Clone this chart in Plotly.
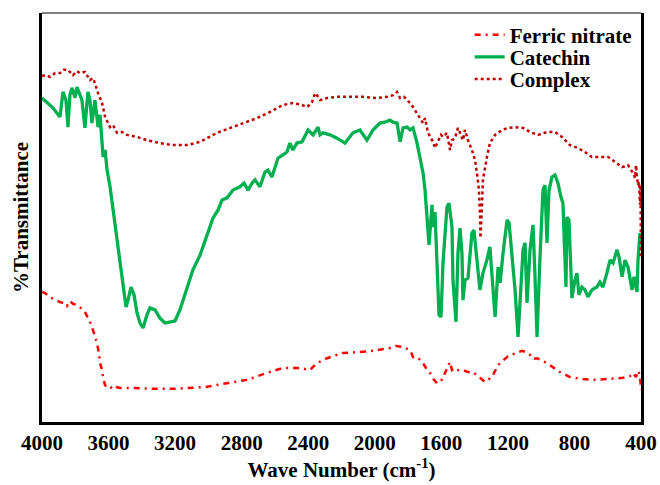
import plotly.graph_objects as go

# ---- data (wave number in cm-1, relative %T) ----
cat_wn = [4000,3970,3934,3892,3874,3856,3844,3832,3820,3802,3790,3772,3760,3742,3724,3712,3700,3682,3663,3651,3639,3633,3621,3609,3591,3573,3543,3519,3495,3483,3465,3447,3429,3411,3393,3369,3351,3321,3291,3261,3231,3201,3171,3129,3093,3050,3008,2972,2942,2918,2888,2852,2810,2786,2762,2738,2720,2690,2660,2642,2618,2582,2552,2528,2510,2492,2468,2437,2401,2371,2341,2329,2311,2269,2227,2179,2131,2089,2047,2011,1969,1939,1909,1890,1866,1848,1830,1806,1788,1770,1746,1728,1710,1698,1686,1674,1656,1650,1638,1626,1614,1602,1590,1566,1554,1536,1530,1512,1500,1488,1476,1470,1458,1440,1416,1404,1386,1368,1350,1326,1308,1290,1277,1259,1247,1229,1205,1193,1175,1157,1139,1121,1109,1097,1091,1085,1067,1049,1037,1025,1007,989,977,965,953,935,917,899,881,869,851,845,833,815,797,785,773,755,737,719,695,665,647,629,605,586,568,544,532,514,496,478,454,442,424,418,406]
cat_t = [79.2,78.0,76.8,74.6,80.7,78.7,72.1,80.0,81.7,79.3,81.9,80.0,78.7,71.9,80.7,78.7,73.1,78.7,72.1,75.1,68.9,64.8,66.5,61.6,57.5,51.8,43.8,35.5,28.1,29.8,33.0,31.1,26.7,24.2,23.0,26.2,27.9,27.4,25.4,24.2,24.5,24.7,27.4,33.0,37.2,40.8,45.7,49.9,51.8,54.3,54.8,56.7,57.5,58.4,56.7,58.4,59.2,57.5,61.1,61.6,59.9,64.5,65.3,66.0,68.2,66.5,68.2,68.5,71.4,70.2,72.1,70.2,70.7,70.2,69.4,68.2,70.7,71.4,68.9,71.4,73.1,73.3,73.8,73.3,73.1,68.5,71.9,72.1,71.4,71.9,68.2,64.8,60.9,56.7,49.4,43.3,53.1,47.7,51.3,37.9,26.2,25.7,38.9,52.6,53.5,47.7,34.7,24.5,41.3,47.4,41.3,29.8,34.7,35.2,46.2,46.9,39.6,32.3,36.4,39.6,42.8,34.0,25.7,37.9,34.0,41.3,49.4,48.7,41.3,32.3,20.8,32.3,42.1,43.8,34.7,29.1,42.1,48.2,35.5,20.8,40.3,56.7,57.9,43.8,56.7,59.9,60.4,58.4,55.0,53.5,33.0,50.1,49.4,30.3,34.7,36.4,31.1,33.0,32.3,30.6,32.3,33.0,34.2,33.0,36.4,39.6,38.9,42.1,40.3,35.5,39.6,37.9,32.3,35.5,31.8,39.6,46.2]

cpx_wn = [4000,3982,3952,3922,3892,3868,3844,3814,3790,3772,3742,3724,3712,3694,3682,3663,3639,3621,3591,3573,3549,3519,3489,3429,3369,3291,3213,3129,3050,2948,2870,2792,2708,2630,2552,2492,2437,2407,2377,2359,2347,2329,2287,2227,2149,2071,1987,1927,1890,1866,1848,1824,1806,1788,1770,1740,1710,1698,1680,1662,1650,1638,1620,1602,1590,1566,1548,1536,1518,1500,1488,1470,1458,1440,1416,1398,1386,1374,1368,1365,1356,1350,1326,1308,1277,1235,1199,1157,1109,1067,1019,965,917,875,827,779,737,695,647,598,556,514,478,460,448,436,430,424,418,412,406,403,400]
cpx_t = [84.6,84.8,84.4,85.3,85.3,86.1,86.1,84.8,85.8,85.3,85.6,84.4,83.6,84.1,82.9,80.4,78.0,74.6,72.1,72.6,70.7,70.9,70.2,69.7,68.9,68.2,67.7,67.7,68.5,70.7,71.9,73.1,74.3,75.8,77.5,78.0,77.5,77.0,78.2,80.4,79.9,78.7,79.2,79.5,79.5,79.5,79.2,79.5,79.9,80.7,79.2,79.5,78.7,78.0,77.0,75.1,73.1,74.3,70.7,69.4,68.5,67.0,68.5,70.2,69.7,70.7,66.5,68.9,69.4,71.9,70.7,68.9,71.4,68.9,66.5,64.1,60.9,56.7,51.1,45.0,52.6,59.2,64.8,68.2,70.2,71.4,71.9,72.1,71.9,70.9,70.2,70.9,70.9,69.7,67.7,67.0,66.0,64.8,64.8,64.8,63.6,62.3,62.8,61.6,60.9,59.7,62.8,59.9,57.9,58.7,53.1,57.9,40.1]

fn_wn = [4000,3982,3940,3892,3862,3850,3832,3814,3790,3772,3742,3724,3712,3694,3682,3669,3657,3651,3639,3633,3621,3609,3591,3579,3561,3531,3453,3333,3213,3129,3008,2888,2768,2648,2552,2449,2389,2365,2347,2287,2191,2089,2011,1909,1873,1830,1788,1770,1746,1728,1710,1692,1668,1644,1626,1608,1596,1578,1560,1548,1536,1518,1500,1470,1440,1410,1368,1338,1320,1296,1259,1205,1169,1115,1091,1067,1049,1025,965,887,827,749,665,586,508,466,448,430,418,406,400]
fn_t = [31.8,31.5,30.3,29.3,29.1,28.4,29.6,28.9,28.6,28.1,26.9,25.4,24.5,22.5,21.0,19.3,16.4,14.4,12.7,11.0,9.0,8.6,8.8,8.1,8.6,8.3,8.3,8.1,8.1,8.3,8.6,9.5,10.3,12.0,13.2,13.2,12.7,13.7,14.4,15.6,16.9,17.1,17.4,18.1,18.6,18.3,17.6,15.9,15.9,15.2,14.4,13.2,12.0,10.3,9.5,10.3,10.3,12.0,13.4,14.7,12.7,13.2,12.7,12.7,12.2,12.2,10.8,9.8,10.3,11.0,13.9,15.9,16.6,17.4,17.1,16.4,15.4,15.6,14.4,12.2,11.0,10.5,10.3,10.5,10.8,11.2,12.0,11.0,12.5,11.5,7.8]

x_ticks = [4000, 3600, 3200, 2800, 2400, 2000, 1600, 1200, 800, 400]

FONT = "Liberation Serif"
FS = 21

fig = go.Figure()
fig.add_trace(go.Scatter(x=fn_wn, y=fn_t, mode="lines", name="<b>Ferric nitrate</b>", legend="legend",
                         line=dict(color="#ff0000", width=2.5, dash="6px,5px,2px,5px")))
fig.add_trace(go.Scatter(x=cat_wn, y=cat_t, mode="lines", name="<b>Catechin</b>", legend="legend2",
                         line=dict(color="#00b050", width=3.3)))
fig.add_trace(go.Scatter(x=cpx_wn, y=cpx_t, mode="lines", name="<b>Complex</b>", legend="legend3",
                         line=dict(color="#c00000", width=2.5, dash="dot")))

leg_common = dict(x=0.714, xanchor="left", yanchor="top", bgcolor="rgba(0,0,0,0)",
                  font=dict(family=FONT, size=FS, color="black"), itemwidth=30)

fig.update_layout(
    width=660, height=485,
    margin=dict(l=42, r=19, t=13, b=63, autoexpand=False),
    paper_bgcolor="white", plot_bgcolor="white",
    font=dict(family=FONT, size=FS, color="black"),
    showlegend=True,
    legend=dict(y=0.996, **leg_common),
    legend2=dict(y=0.942, **leg_common),
    legend3=dict(y=0.888, **leg_common),
    xaxis=dict(range=[4000, 400], tickvals=x_ticks, ticktext=[f"<b>{v}</b>" for v in x_ticks],
               showgrid=False, zeroline=False, showline=True, linecolor="black", linewidth=3,
               ticks="", tickfont=dict(family=FONT, size=FS), automargin=False,
               title=dict(text="<b>Wave Number (cm<sup>-1</sup>)</b>", font=dict(family=FONT, size=FS), standoff=6)),
    yaxis=dict(range=[0, 100], showticklabels=False, showgrid=False, zeroline=False,
               showline=True, mirror=True, linecolor="black", linewidth=3, ticks="", automargin=False,
               title=dict(text="<b>%Transmittance</b>", font=dict(family=FONT, size=FS), standoff=5)),
    shapes=[dict(type="line", xref="paper", yref="paper", x0=0, x1=1, y0=1, y1=1,
                 line=dict(color="black", width=1.2))],
)

fig.write_html("out.html")
